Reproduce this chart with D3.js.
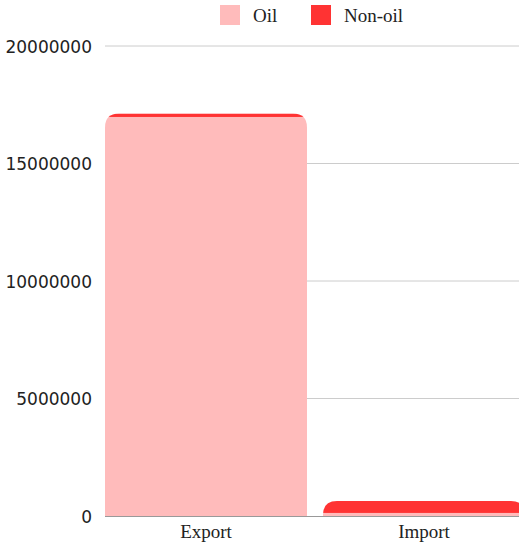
<!DOCTYPE html>
<html>
<head>
<meta charset="utf-8">
<script src="https://cdn.jsdelivr.net/npm/d3@7"></script>
<style>
  body { margin: 0; background: #fff; }
  svg { display: block; }
</style>
</head>
<body>
<script>
// data
const categories = ['Export', 'Import'];
const seriesNames = ['Oil', 'Non-oil'];
const oilValues = [16980000, 130000];
const nonOilValues = [150000, 510000];
const yTicks = [0, 5000000, 10000000, 15000000, 20000000];
const colors = ['#ffbbbb', '#ff3333'];

const width = 519, height = 546;
const svg = d3.select('body').append('svg')
    .attr('width', width)
    .attr('height', height);

const x = d3.scaleBand()
    .domain(categories)
    .range([105, 525])
    .paddingInner(0.0734)
    .paddingOuter(0);

const y = d3.scaleLinear()
    .domain([0, 20000000])
    .range([516, 46]);

// gridlines
svg.append('g').selectAll('line')
    .data(yTicks.slice(1))
    .enter().append('line')
    .attr('x1', 105)
    .attr('x2', width)
    .attr('y1', d => y(d))
    .attr('y2', d => y(d))
    .attr('stroke', '#cccccc')
    .attr('stroke-width', 1);

// baseline
svg.append('line')
    .attr('x1', 105).attr('x2', width)
    .attr('y1', y(0) + 0.5).attr('y2', y(0) + 0.5)
    .attr('stroke', '#999999');

// y tick labels
svg.append('g').selectAll('text')
    .data(yTicks)
    .enter().append('text')
    .attr('x', 92)
    .attr('y', d => y(d))
    .attr('dy', '0.4em')
    .attr('text-anchor', 'end')
    .attr('font-family', 'DejaVu Sans, sans-serif')
    .attr('font-size', 17)
    .attr('fill', '#222')
    .text(d => d);

// stacked bars, rounded on top of the whole stack
const rows = categories.map((c, i) => ({ cat: c, 'Oil': oilValues[i], 'Non-oil': nonOilValues[i] }));
const stacked = d3.stack().keys(seriesNames)(rows);
const r = 14;

const defs = svg.append('defs');
rows.forEach((d, i) => {
    const x0 = x(d.cat), x1 = x0 + x.bandwidth();
    const top = y(d['Oil'] + d['Non-oil']), bot = y(0);
    defs.append('clipPath').attr('id', 'clip' + i)
        .append('path')
        .attr('d', `M${x0},${bot}V${top + r}Q${x0},${top} ${x0 + r},${top}H${x1 - r}Q${x1},${top} ${x1},${top + r}V${bot}Z`);
});

stacked.forEach((s, k) => {
    svg.append('g').selectAll('rect')
        .data(s)
        .enter().append('rect')
        .attr('clip-path', (d, i) => `url(#clip${i})`)
        .attr('x', d => x(d.data.cat))
        .attr('width', x.bandwidth())
        .attr('y', d => y(d[1]))
        .attr('height', d => y(d[0]) - y(d[1]))
        .attr('fill', colors[k]);
});

// category labels
svg.append('g').selectAll('text')
    .data(categories)
    .enter().append('text')
    .attr('x', d => x(d) + x.bandwidth() / 2)
    .attr('y', 538)
    .attr('text-anchor', 'middle')
    .attr('font-family', 'Liberation Serif, serif')
    .attr('font-size', 19)
    .attr('fill', '#222')
    .text(d => d);

// legend
const legendX = [220, 311];
const legend = svg.append('g').selectAll('g')
    .data(seriesNames)
    .enter().append('g')
    .attr('transform', (d, i) => `translate(${legendX[i]},5)`);
legend.append('rect')
    .attr('width', 20).attr('height', 20)
    .attr('fill', (d, i) => colors[i]);
legend.append('text')
    .attr('x', 33)
    .attr('y', 17)
    .attr('font-family', 'Liberation Serif, serif')
    .attr('font-size', 19)
    .attr('fill', '#222')
    .text(d => d);
</script>
</body>
</html>
